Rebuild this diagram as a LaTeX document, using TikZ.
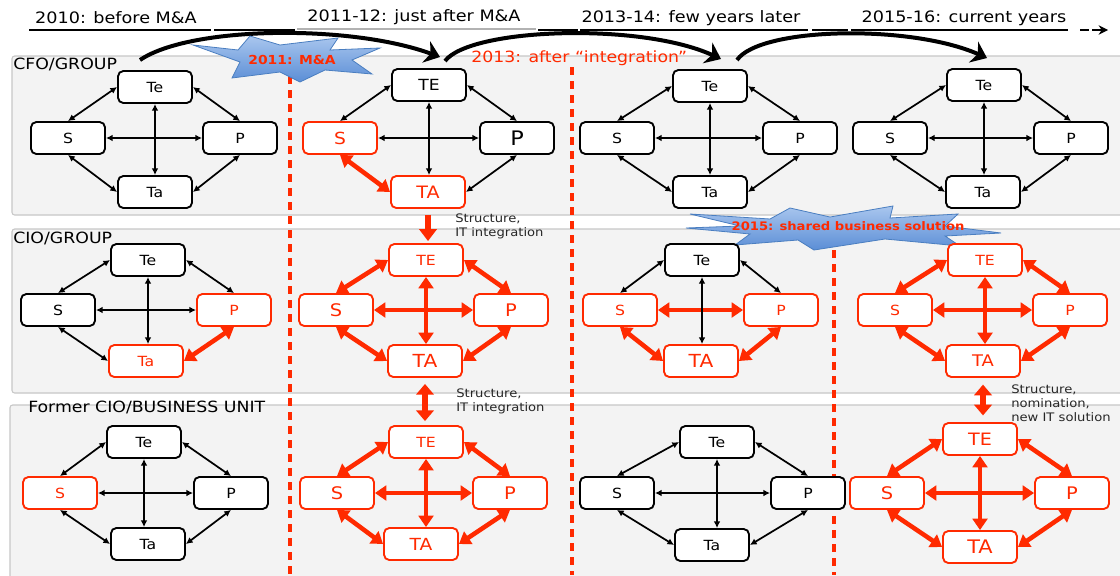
\documentclass[tikz,border=0pt]{standalone}
\usepackage{fontspec}
\setmainfont{DejaVu Sans}[FakeStretch=1.12]
\usetikzlibrary{arrows.meta}
\definecolor{kred}{HTML}{FF2A00}
\definecolor{panelgray}{HTML}{F3F3F3}
\definecolor{startop}{HTML}{A9C6EE}
\definecolor{starbot}{HTML}{5B8ED6}
\definecolor{starline}{HTML}{4A7EC0}
\newcommand\fsz[1]{\fontsize{#1pt}{#1pt}\selectfont}
\newcommand\myedges[7]{%
  \draw[#2] (#1te.west) -- (#1s.north);
  \draw[#3] (#1te.east) -- (#1p.north);
  \draw[#4] (#1s.south) -- (#1ta.west);
  \draw[#5] (#1p.south) -- (#1ta.east);
  \draw[#6] (#1s.east) -- (#1s.east -| #1p.west);
  \draw[#7] (#1te.south) -- (#1te.south |- #1ta.north);
}
\begin{document}
\begin{tikzpicture}[x=0.75pt,y=-0.75pt,
  box/.style={draw=black, fill=white, line width=1.4pt, rounded corners=4pt,
    minimum width=55.5pt, minimum height=24pt, inner sep=0pt, font=\fsz{10.5}},
  rbox/.style={box, draw=kred, text=kred},
  blk/.style={line width=1.3pt, {Latex[length=5pt,width=5pt]}-{Latex[length=5pt,width=5pt]}},
  rd/.style={draw=kred, line width=3.4pt, {Triangle[length=8.5pt,width=11pt]}-{Triangle[length=8.5pt,width=11pt]}},
  rdash/.style={draw=kred, line width=2.3pt, dash pattern=on 6pt off 4.5pt},
  panel/.style={fill=panelgray, draw=black!22, line width=0.8pt, rounded corners=2pt},
  star/.style={draw=starline, line width=0.6pt, top color=startop, bottom color=starbot},
  tl/.style={line width=1.5pt},
  bigarc/.style={line width=3pt, -{Stealth[length=11pt,width=17pt,inset=3.5pt]}},
  head/.style={font=\fsz{11.6}, inner sep=0pt, anchor=west},
  yr/.style={font=\fsz{11.8}, inner sep=0pt},
  note/.style={font=\fontsize{8.8pt}{10.6pt}\selectfont, align=left, inner sep=0pt, anchor=west, text=black!85}
]
\useasboundingbox (0,0) rectangle (1120,575);
\fill[white] (0,0) rectangle (1120,575);

% panels
\draw[panel] (12,56) rectangle (1124,215);
\draw[panel] (12,229) rectangle (1124,393);
\draw[panel] (10,405) rectangle (1124,582);

% timeline
\draw[tl] (29,30) -- (211,30);
\draw[tl] (214,30) -- (295,30);
\draw[tl, black!30] (297,29) -- (536,29);
\draw[tl] (538,30) -- (578,30);
\draw[tl] (580,30) -- (808,30);
\draw[tl] (812,30) -- (848,30);
\draw[tl] (851,30) -- (1068,30);
\draw[tl] (1080,30) -- (1089,30);
\draw[tl, -{Stealth[length=7pt,width=7pt]}] (1092,30) -- (1108,30);
\node[yr] (y1) at (116,18) {2010: before M\&A};
\node[yr] (y2) at (414,17) {2011-12: just after M\&A};
\node[yr] (y3) at (691,18) {2013-14: few years later};
\node[yr] (y4) at (964,18) {2015-16: current years};

% arcs between periods
\coordinate (a1s) at (140,60); \coordinate (a1e) at (440,57);
\coordinate (a2s) at (445,61); \coordinate (a2e) at (721,59);
\coordinate (a3s) at (737,60); \coordinate (a3e) at (987,58);
\draw[bigarc] (a1s) .. controls (190,26) and (350,24) .. (a1e);
\draw[bigarc] (a2s) .. controls (470,28) and (640,22) .. (a2e);
\draw[bigarc] (a3s) .. controls (760,27) and (910,24) .. (a3e);

% dashed separators
\draw[rdash] (290,62) -- (290,575);
\draw[rdash] (572,67) -- (572,575);
\draw[rdash] (834,236) -- (834,575);

% starbursts
\draw[star] (193,45) -- (238,50) -- (250,36) -- (280,45) -- (338,38) -- (330,50)
  -- (380,48) -- (352,60) -- (372,74) -- (325,70) -- (300,82) -- (280,72)
  -- (232,78) -- (240,62) -- cycle;
\node[font=\bfseries\fsz{9.3}, text=kred, inner sep=0pt] (m1) at (292,60) {2011: M\&A};
\draw[star] (690,214) -- (770,219) -- (790,208) -- (830,217) -- (893,206) -- (890,218)
  -- (958,214) -- (945,226) -- (1001,233) -- (945,236) -- (960,246) -- (885,239)
  -- (814,250) -- (798,240) -- (735,245) -- (750,234) -- (686,228) -- (740,226) -- cycle;
\node[font=\bfseries\fsz{8.8}, text=kred, inner sep=0pt] (m2) at (848,226) {2015: shared business solution};

% headers
\node[head] (h1) at (13,64) {CFO/GROUP};
\node[head] (h2) at (13,238) {CIO/GROUP};
\node[head] (h3) at (28,407) {Former CIO/BUSINESS UNIT};
\node[head, text=kred] (h4) at (471,58) {2013: after “integration”};

% ---------- row 1 ----------
\node[box] (r1c1te) at (155,87) {Te};
\node[box] (r1c1s) at (68,138) {S};
\node[box] (r1c1p) at (240,138) {P};
\node[box] (r1c1ta) at (155,192) {Ta};
\myedges{r1c1}{blk}{blk}{blk}{blk}{blk}{blk}

\node[box, font=\fsz{11.5}] (r1c2te) at (429,85) {TE};
\node[rbox, font=\fsz{12.5}] (r1c2s) at (340,138) {S};
\node[box, font=\fsz{15}] (r1c2p) at (517,138) {P};
\node[rbox, font=\fsz{12.8}] (r1c2ta) at (428,192) {TA};
\myedges{r1c2}{blk}{blk}{rd}{blk}{blk}{blk}

\node[box] (r1c3te) at (710,86) {Te};
\node[box] (r1c3s) at (617,138) {S};
\node[box] (r1c3p) at (800,138) {P};
\node[box] (r1c3ta) at (710,192) {Ta};
\myedges{r1c3}{blk}{blk}{blk}{blk}{blk}{blk}

\node[box] (r1c4te) at (984,85) {Te};
\node[box] (r1c4s) at (890,138) {S};
\node[box] (r1c4p) at (1071,138) {P};
\node[box] (r1c4ta) at (983,192) {Ta};
\myedges{r1c4}{blk}{blk}{blk}{blk}{blk}{blk}

% ---------- row 2 ----------
\node[box] (r2c1te) at (148,260) {Te};
\node[box] (r2c1s) at (58,310) {S};
\node[rbox] (r2c1p) at (234,310) {P};
\node[rbox] (r2c1ta) at (146,361) {Ta};
\myedges{r2c1}{blk}{blk}{blk}{rd}{blk}{blk}

\node[rbox] (r2c2te) at (426,260) {TE};
\node[rbox, font=\fsz{13}] (r2c2s) at (336,310) {S};
\node[rbox, font=\fsz{13}] (r2c2p) at (511,310) {P};
\node[rbox, font=\fsz{13.5}] (r2c2ta) at (425,361) {TA};
\myedges{r2c2}{rd}{rd}{rd}{rd}{rd}{rd}

\node[box] (r2c3te) at (702,260) {Te};
\node[rbox] (r2c3s) at (620,310) {S};
\node[rbox] (r2c3p) at (781,310) {P};
\node[rbox, font=\fsz{13.5}] (r2c3ta) at (701,361) {TA};
\myedges{r2c3}{blk}{blk}{rd}{rd}{rd}{blk}

\node[rbox] (r2c4te) at (985,260) {TE};
\node[rbox] (r2c4s) at (895,310) {S};
\node[rbox] (r2c4p) at (1070,310) {P};
\node[rbox, font=\fsz{12}] (r2c4ta) at (983,361) {TA};
\myedges{r2c4}{rd}{rd}{rd}{rd}{rd}{rd}

% ---------- row 3 ----------
\node[box] (r3c1te) at (144,442) {Te};
\node[rbox] (r3c1s) at (60,493) {S};
\node[box] (r3c1p) at (231,493) {P};
\node[box] (r3c1ta) at (148,544) {Ta};
\myedges{r3c1}{blk}{blk}{blk}{blk}{blk}{blk}

\node[rbox] (r3c2te) at (426,442) {TE};
\node[rbox, font=\fsz{13}] (r3c2s) at (337,493) {S};
\node[rbox, font=\fsz{13}] (r3c2p) at (510,493) {P};
\node[rbox, font=\fsz{12.5}] (r3c2ta) at (421,544) {TA};
\myedges{r3c2}{rd}{rd}{rd}{rd}{rd}{rd}

\node[box] (r3c3te) at (717,442) {Te};
\node[box] (r3c3s) at (617,493) {S};
\node[box] (r3c3p) at (808,493) {P};
\node[box] (r3c3ta) at (712,545) {Ta};
\myedges{r3c3}{blk}{blk}{blk}{blk}{blk}{blk}

\node[rbox, font=\fsz{12.8}] (r3c4te) at (980,439) {TE};
\node[rbox, font=\fsz{13}] (r3c4s) at (887,493) {S};
\node[rbox, font=\fsz{13}] (r3c4p) at (1072,493) {P};
\node[rbox, font=\fsz{14}] (r3c4ta) at (980,547) {TA};
\myedges{r3c4}{rd}{rd}{rd}{rd}{rd}{rd}

% ---------- between rows ----------
\draw[kred, line width=4.5pt, -{Triangle[length=9pt,width=13pt]}, shorten <=4.5pt, shorten >=1.5pt]
  (r1c2ta.south) -- (r1c2ta.south |- r2c2te.north);
\draw[kred, line width=4.5pt, {Triangle[length=8pt,width=13pt]}-{Triangle[length=8pt,width=13pt]}, shorten <=4.5pt, shorten >=3pt]
  (r2c2ta.south) -- (r2c2ta.south |- r3c2te.north);
\draw[kred, line width=4.5pt, {Triangle[length=8pt,width=13pt]}-{Triangle[length=8pt,width=13pt]}, shorten <=5pt, shorten >=5pt]
  (r2c4ta.south) -- (r2c4ta.south |- r3c4te.north);

\node[note] (n1) at (455,226) {Structure,\\IT integration};
\node[note] (n2) at (456,401) {Structure,\\IT integration};
\node[note] (n3) at (1011,403) {Structure,\\nomination,\\new IT solution};
\end{tikzpicture}
\end{document}
